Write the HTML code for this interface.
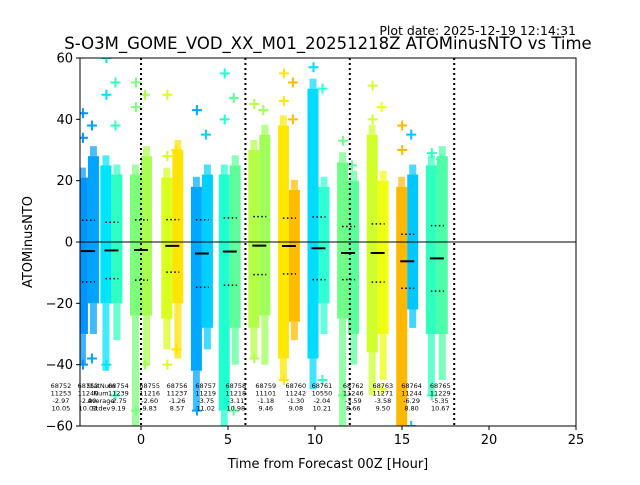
<!DOCTYPE html>
<html><head><meta charset="utf-8"><style>
body{margin:0;background:#fff;font-family:"Liberation Sans","DejaVu Sans",sans-serif}
svg text{font-family:"DejaVu Sans","Liberation Sans",sans-serif}
</style></head><body>
<svg id="c" width="640" height="480" viewBox="0 0 640 480" xmlns="http://www.w3.org/2000/svg">
<defs id="defs"></defs>
<text x="576" y="35" font-size="12.5" text-anchor="end">Plot date: 2025-12-19 12:14:31</text>
<text x="328" y="49" font-size="16.5" text-anchor="middle">S-O3M_GOME_VOD_XX_M01_20251218Z ATOMinusNTO vs Time</text>
<g id="plot"></g>
<text x="328" y="468" font-size="13" text-anchor="middle">Time from Forecast 00Z [Hour]</text>
<text x="32" y="242" font-size="13" text-anchor="middle" transform="rotate(-90 32 242)">ATOMinusNTO</text>
</svg>
<script>
const ids=["68752","68753","68754","68755","68756","68757","68758","68759","68760","68761","68762","68763","68764","68765"];
const counts=["11253","11240","11239","11216","11237","11219","11218","11101","11242","10550","11246","11271","11244","11229"];
const means=[-2.97,-2.90,-2.75,-2.60,-1.26,-3.75,-3.11,-1.18,-1.30,-2.04,-3.59,-3.58,-6.29,-5.35];
const stdevs=[10.05,10.03,9.19,9.83,8.57,11.02,10.98,9.46,9.08,10.21,8.66,9.50,8.80,10.67];
const labelHours=[-4.6,-3.05,-1.3,0.5,2.07,3.72,5.45,7.17,8.9,10.4,12.2,13.9,15.55,17.2];
const clusterHours=[-3.05,-1.7,0,1.8,3.5,5.1,6.8,8.5,10.2,11.9,13.6,15.3,17.0];
const clusterMeanIdx=[0,2,3,4,5,6,7,8,9,10,11,12,13];
const denseTopA=[21,25,22,21,18,22,30,38,50,26,35,18,25];
const denseTopB=[28,22,28,30,22,25,35,17,18,20,20,22,28];
const denseBotA=[-30,-20,-24,-25,-42,-55,-28,-38,-38,-25,-36,-60,-30];
const denseBotB=[-20,-20,-24,-20,-28,-28,-24,-26,-20,-30,-30,-22,-30];
const tailA=[-40,-42,-60,-35,-55,-60,-38,-45,-48,-60,-50,-60,-50];
const tailB=[-30,-32,-40,-38,-35,-40,-40,-32,-30,-40,-45,-28,-45];
const colorA=["#0094ff","#00e4f8","#7cff7a","#d8ff20","#00a8ff","#20ffd0","#b4ff44","#ffe800","#00dcff","#70ff88","#d0ff2c","#ffb800","#30ffc0"];
const colorB=["#00a4ff","#30ffc4","#a8ff50","#ffe400","#00d0ff","#5cff98","#a0ff58","#ffbc00","#30ffd4","#5cff9c","#f0ff10","#00c8ff","#4cffa8"];
const outliers=[[42,38,34,-38,-40],[60,52,48,38,-40,-50],[52,48,44,-40,-55],[48,30,28,-35,-40],[43,35,-55],[55,47,40,-55],[45,43,-38],[55,52,46,40,-45],[57,50,34,-45],[33,25,-50],[51,44,40,-48],[38,35,30,-60],[29,27,-50]];
const yTicks=[60,40,20,0,-20,-40,-60];
const xTicks=[0,5,10,15,20,25];
const vLines=[0,6,12,18];
const L=80,R=576,T=58,B=426;
const xp=h=>141+h*17.4, yp=v=>242-v*3.0667;
const NS="http://www.w3.org/2000/svg";
const g=document.getElementById('plot'), defs=document.getElementById('defs');
function mk(t,a,p){const e=document.createElementNS(NS,t);for(const k in a)e.setAttribute(k,a[k]);(p||g).appendChild(e);return e;}
const clip=mk('clipPath',{id:'pc'},defs);mk('rect',{x:L,y:T,width:R-L,height:B-T},clip);
const data=mk('g',{'clip-path':'url(#pc)'});
clusterHours.forEach((h,i)=>{
  const cx=xp(h);
  mk('rect',{x:cx-9,y:yp(denseBotA[i]),width:7,height:yp(tailA[i])-yp(denseBotA[i]),fill:colorA[i],opacity:0.75},data);
  mk('rect',{x:cx+2,y:yp(denseBotB[i]),width:7,height:yp(tailB[i])-yp(denseBotB[i]),fill:colorB[i],opacity:0.75},data);
  const a=mk('rect',{x:cx-11,y:yp(denseTopA[i]),width:11,height:yp(denseBotA[i])-yp(denseTopA[i]),fill:colorA[i]},data);
  
  const b=mk('rect',{x:cx,y:yp(denseTopB[i]),width:11,height:yp(denseBotB[i])-yp(denseTopB[i]),fill:colorB[i]},data);
  
  mk('rect',{x:cx-9,y:yp(denseTopA[i])-10,width:7,height:10,fill:colorA[i],opacity:0.7},data);
  mk('rect',{x:cx+2,y:yp(denseTopB[i])-10,width:7,height:10,fill:colorB[i],opacity:0.7},data);
  outliers[i].forEach((v,j)=>{
    const ox=cx+(j%2?4:-5), oy=yp(v);
    const p=mk('path',{d:`M${ox-5},${oy}h10M${ox},${oy-5}v10`,stroke:j%2?colorB[i]:colorA[i],'stroke-width':2},data);
    
  });
  const m=means[clusterMeanIdx[i]], s=stdevs[clusterMeanIdx[i]];
  const ml=mk('line',{x1:cx-7,x2:cx+7,y1:yp(m),y2:yp(m),stroke:'#000','stroke-width':2},data);
  
  [m+s,m-s].forEach(v=>{const d=mk('line',{x1:cx-6,x2:cx+7,y1:yp(v),y2:yp(v),stroke:'#000','stroke-width':1.5,'stroke-dasharray':'1.5,2.5'},data);
  });
});
vLines.forEach(h=>{const l=mk('line',{x1:xp(h),x2:xp(h),y1:T,y2:B,stroke:'#000','stroke-width':2,'stroke-dasharray':'2,3'});
});
const z=mk('line',{x1:L,x2:R,y1:yp(0),y2:yp(0),stroke:'#000','stroke-width':1});

ids.forEach((id,i)=>{const x=xp(labelHours[i]);
  const t=mk('text',{x:x,y:388,'font-size':6.5,'text-anchor':'middle'});
  
  [id,counts[i],means[i].toFixed(2),stdevs[i].toFixed(2)].forEach((s,k)=>{const ts=mk('tspan',{x:x,dy:k?7.5:0},t);ts.textContent=s;});
});
const st=mk('text',{x:xp(-2.3),y:388,'font-size':6.5,'text-anchor':'middle'});

['StatNum','Num','Average','Stdev'].forEach((s,k)=>{const ts=mk('tspan',{x:xp(-2.3),dy:k?7.5:0},st);ts.textContent=s;});
const fr=mk('rect',{x:L,y:T,width:R-L,height:B-T,fill:'none',stroke:'#000','stroke-width':1});

yTicks.forEach(v=>{mk('line',{x1:L-4,x2:L,y1:yp(v),y2:yp(v),stroke:'#000'});
  const t=mk('text',{x:L-7,y:yp(v)+4.5,'font-size':13,'text-anchor':'end'});t.textContent=v<0?'\u2212'+(-v):v;
  });
xTicks.forEach(v=>{mk('line',{x1:xp(v),x2:xp(v),y1:B,y2:B+4,stroke:'#000'});
  const t=mk('text',{x:xp(v),y:B+18,'font-size':13,'text-anchor':'middle'});t.textContent=v;
  });
</script>
</body></html>
